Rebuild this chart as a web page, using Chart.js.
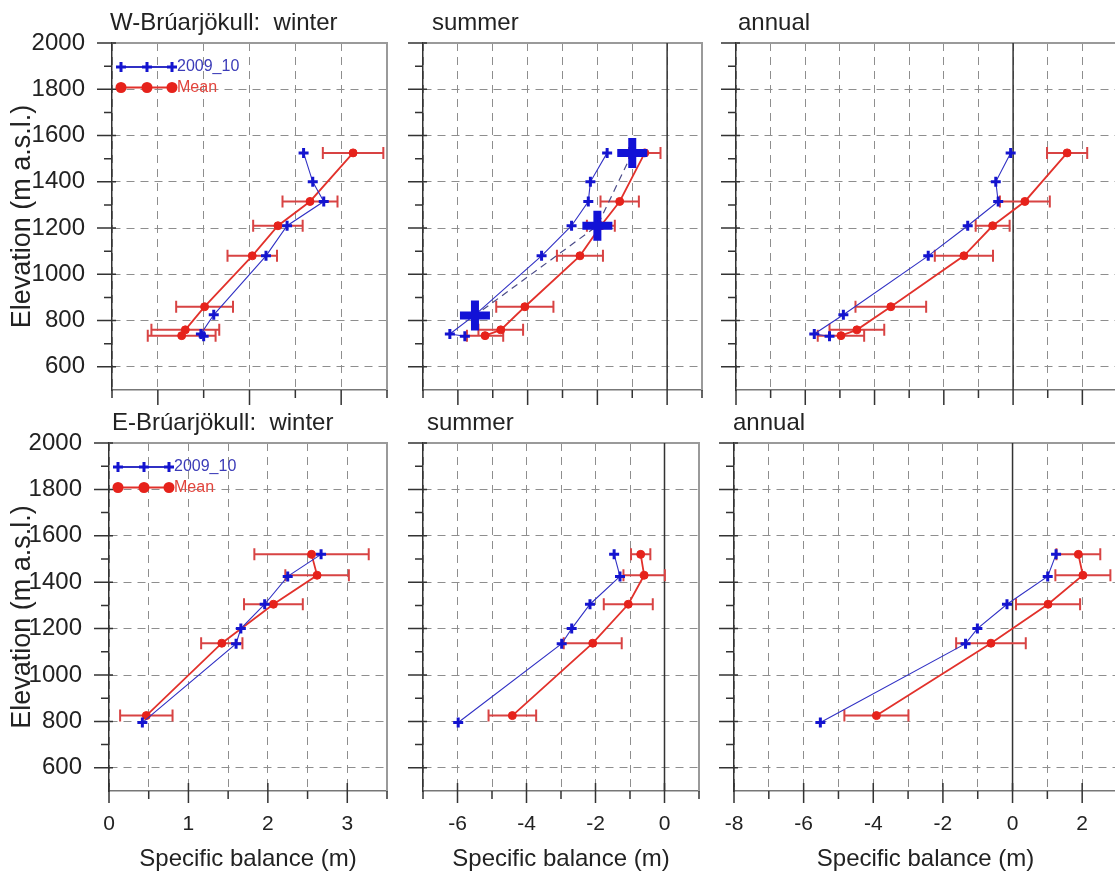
<!DOCTYPE html>
<html>
<head>
<meta charset="utf-8">
<script src="https://cdn.jsdelivr.net/npm/chart.js@4.4.1/dist/chart.umd.min.js"></script>
<style>
  html, body { margin: 0; padding: 0; background: #fff; overflow: hidden; }
  body { width: 1115px; height: 877px; position: relative; }
  canvas { position: absolute; }
</style>
</head>
<body>
<canvas id="wWinter" width="395" height="405" style="left:0;top:0"></canvas>
<canvas id="wSummer" width="318" height="405" style="left:392px;top:0"></canvas>
<canvas id="wAnnual" width="420" height="405" style="left:706px;top:0"></canvas>
<canvas id="eWinter" width="395" height="472" style="left:0;top:405px"></canvas>
<canvas id="eSummer" width="318" height="472" style="left:392px;top:405px"></canvas>
<canvas id="eAnnual" width="420" height="472" style="left:706px;top:405px"></canvas>
<script>
// ---- W-Brúarjökull ----
var wElev2009   = [1525, 1400, 1315, 1210, 1080, 825, 742, 732];
var wWinter2009 = [1.59, 1.69, 1.81, 1.41, 1.18, 0.61, 0.47, 0.50];
var wSummer2009 = [-1.72, -2.20, -2.26, -2.74, -3.60, -5.51, -6.23, -5.80];
var wAnnual2009 = [-0.07, -0.50, -0.43, -1.31, -2.45, -4.90, -5.74, -5.30];

var wElevMean   = [1525, 1315, 1210, 1080, 860, 760, 735];
var wWinterMean = [2.13, 1.66, 1.31, 1.03, 0.51, 0.30, 0.26];
var wWinterErr  = [0.33, 0.30, 0.27, 0.27, 0.31, 0.37, 0.37];
var wSummerMean = [-0.64, -1.36, -1.90, -2.50, -4.08, -4.77, -5.22];
var wSummerErr  = [0.45, 0.55, 0.40, 0.66, 0.82, 0.64, 0.52];
var wAnnualMean = [1.56, 0.34, -0.59, -1.42, -3.53, -4.51, -4.97];
var wAnnualErr  = [0.58, 0.72, 0.49, 0.84, 1.02, 0.79, 0.67];

var wStakeElev   = [1525, 1210, 822];
var wStakeSummer = [-1.0, -2.0, -5.51];

// ---- E-Brúarjökull ----
var eElev2009   = [1520, 1425, 1305, 1200, 1135, 795];
var eWinter2009 = [2.67, 2.25, 1.96, 1.66, 1.60, 0.42];
var eSummer2009 = [-1.46, -1.29, -2.16, -2.69, -2.98, -5.98];
var eAnnual2009 = [1.25, 1.01, -0.16, -1.01, -1.35, -5.52];

var eElevMean   = [1520, 1430, 1305, 1137, 825];
var eWinterMean = [2.55, 2.62, 2.07, 1.42, 0.47];
var eWinterErr  = [0.72, 0.40, 0.37, 0.26, 0.33];
var eSummerMean = [-0.69, -0.59, -1.05, -2.08, -4.41];
var eSummerErr  = [0.28, 0.60, 0.71, 0.84, 0.69];
var eAnnualMean = [1.89, 2.02, 1.02, -0.62, -3.91];
var eAnnualErr  = [0.63, 0.79, 0.92, 1.00, 0.92];

// ---- axes ----
var yTicks         = [600, 800, 1000, 1200, 1400, 1600, 1800, 2000];
var winterTopTicks = [-0.5, 0, 0.5, 1, 1.5, 2, 2.5];
var winterBotTicks = [0, 0.5, 1, 1.5, 2, 2.5, 3, 3.5];
var summerTicks    = [-7, -6, -5, -4, -3, -2, -1, 0, 1];
var annualTicks    = [-8, -7, -6, -5, -4, -3, -2, -1, 0, 1, 2, 3];

Chart.defaults.font.family = "'Liberation Sans', Arial, sans-serif";
Chart.defaults.color = '#222';

function pts(xs, ys, errs) {
  return xs.map(function (x, i) { return { x: x, y: ys[i], err: errs ? errs[i] : 0 }; });
}

var errorBars = {
  id: 'errorBars',
  beforeDatasetDraw: function (chart, args) {
    var ds = chart.data.datasets[args.index];
    if (!ds.errorBars) return;
    var xs = chart.scales.x, ys = chart.scales.y, ctx = chart.ctx;
    ctx.save();
    ctx.strokeStyle = '#d84343';
    ctx.lineWidth = 2;
    ds.data.forEach(function (p) {
      var y = ys.getPixelForValue(p.y);
      var x1 = xs.getPixelForValue(p.x - p.err), x2 = xs.getPixelForValue(p.x + p.err);
      ctx.beginPath();
      ctx.moveTo(x1, y); ctx.lineTo(x2, y);
      ctx.moveTo(x1, y - 6); ctx.lineTo(x1, y + 6);
      ctx.moveTo(x2, y - 6); ctx.lineTo(x2, y + 6);
      ctx.stroke();
    });
    ctx.restore();
  }
};

var frameTicks = {
  id: 'frameTicks',
  beforeDatasetsDraw: function (chart, args, opts) {
    var a = chart.chartArea, ctx = chart.ctx;
    ctx.save();
    ctx.strokeStyle = '#9a9a9a';
    ctx.lineWidth = 2;
    ctx.beginPath();
    ctx.moveTo(a.left, a.top); ctx.lineTo(a.right, a.top); ctx.lineTo(a.right, a.bottom);
    ctx.stroke();
    if (opts.zeroLine) {
      var x0 = chart.scales.x.getPixelForValue(0);
      ctx.strokeStyle = '#333';
      ctx.lineWidth = 1.5;
      ctx.beginPath(); ctx.moveTo(x0, a.top); ctx.lineTo(x0, a.bottom); ctx.stroke();
    }
    ctx.restore();
  },
  afterDraw: function (chart, args, opts) {
    var a = chart.chartArea, ctx = chart.ctx, xs = chart.scales.x, ys = chart.scales.y;
    ctx.save();
    ctx.strokeStyle = '#333';
    ctx.lineWidth = 1.5;
    ctx.beginPath();
    xs.ticks.forEach(function (t) {
      var px = xs.getPixelForValue(t.value);
      var major = Math.abs(t.value % opts.xMajor) < 1e-9;
      ctx.moveTo(px, a.bottom - (major ? opts.xIn : 0));
      ctx.lineTo(px, a.bottom + (major ? opts.xLong : 8));
    });
    for (var v = ys.min + 100; v <= ys.max; v += 100) {
      var py = ys.getPixelForValue(v);
      var maj = v % 200 === 0;
      ctx.moveTo(a.left + (maj ? 4 : 0), py);
      ctx.lineTo(a.left - (maj ? opts.yLong : 8), py);
    }
    ctx.stroke();
    ctx.restore();
  }
};

var panelTitle = {
  id: 'panelTitle',
  afterDraw: function (chart, args, opts) {
    var a = chart.chartArea, ctx = chart.ctx;
    ctx.save();
    ctx.font = "24px 'Liberation Sans', Arial, sans-serif";
    ctx.fillStyle = '#222';
    ctx.textBaseline = 'alphabetic';
    ctx.fillText(opts.text, a.left + opts.dx, a.top - 13);
    ctx.restore();
  }
};

var innerLegend = {
  id: 'innerLegend',
  afterDatasetsDraw: function (chart, args, opts) {
    if (!opts.show) return;
    var a = chart.chartArea, ctx = chart.ctx;
    var rows = chart.data.datasets.filter(function (d) { return d.inLegend; });
    ctx.save();
    ctx.font = "16px 'Liberation Sans', Arial, sans-serif";
    ctx.textBaseline = 'middle';
    rows.forEach(function (d, i) {
      var y = a.top + 24 + i * 20.5;
      ctx.strokeStyle = d.borderColor;
      ctx.lineWidth = 2;
      ctx.beginPath(); ctx.moveTo(a.left + 4, y); ctx.lineTo(a.left + 60, y); ctx.stroke();
      [9, 35, 60].forEach(function (dx) {
        var x = a.left + dx;
        if (d.pointStyle === 'cross') {
          ctx.strokeStyle = d.pointBorderColor;
          ctx.lineWidth = 3;
          ctx.beginPath();
          ctx.moveTo(x - 5, y); ctx.lineTo(x + 5, y);
          ctx.moveTo(x, y - 5); ctx.lineTo(x, y + 5);
          ctx.stroke();
        } else {
          ctx.fillStyle = d.pointBackgroundColor;
          ctx.beginPath(); ctx.arc(x, y, 5.5, 0, Math.PI * 2); ctx.fill();
        }
      });
      ctx.fillStyle = d.legendText;
      ctx.fillText(d.label, a.left + 65, y);
    });
    ctx.restore();
  }
};

function panel(id, cfg) {
  var datasets = [];
  if (cfg.stakes) {
    datasets.push({
      label: 'Stakes', data: cfg.stakes, showLine: true, order: 0,
      borderColor: '#4a4a88', borderWidth: 1.2, borderDash: [7, 5],
      pointStyle: 'cross', pointRadius: 15, pointBorderWidth: 8,
      pointBorderColor: '#1212d6', pointBackgroundColor: '#1212d6'
    });
  }
  datasets.push({
    label: '2009_10', data: cfg.blue, showLine: true, order: 1, inLegend: true, legendText: '#3b3bb8',
    borderColor: '#3030c4', borderWidth: 1.1,
    pointStyle: 'cross', pointRadius: 5, pointBorderWidth: 3,
    pointBorderColor: '#1414cf', pointBackgroundColor: '#1414cf'
  });
  datasets.push({
    label: 'Mean', data: cfg.red, showLine: true, order: 2, inLegend: true, legendText: '#e2443c',
    errorBars: true, borderColor: '#e2312b', borderWidth: 1.8,
    pointStyle: 'circle', pointRadius: 4, pointBorderWidth: 1,
    pointBorderColor: '#e6221b', pointBackgroundColor: '#e6221b'
  });

  new Chart(document.getElementById(id), {
    type: 'scatter',
    data: { datasets: datasets },
    plugins: [errorBars, frameTicks, panelTitle, innerLegend],
    options: {
      responsive: false,
      animation: false,
      events: [],
      layout: { autoPadding: false, padding: { top: cfg.padTop, right: cfg.padRight, left: 0, bottom: 0 } },
      plugins: {
        legend: { display: false },
        tooltip: { enabled: false },
        panelTitle: { text: cfg.title, dx: cfg.titleDx },
        innerLegend: { show: !!cfg.legend },
        frameTicks: {
          zeroLine: cfg.zeroLine, xMajor: cfg.xMajor,
          xLong: cfg.bottom ? 12 : 15, xIn: cfg.bottom ? 8 : 0, yLong: 15
        }
      },
      scales: {
        x: {
          type: 'linear', min: cfg.xTicks[0], max: cfg.xTicks[cfg.xTicks.length - 1],
          afterBuildTicks: function (s) { s.ticks = cfg.xTicks.map(function (v) { return { value: v }; }); },
          afterFit: function (s) { s.height = cfg.xHeight; },
          grid: { color: '#8e8e8e', lineWidth: 1, drawTicks: true, tickLength: 21, tickColor: 'transparent' },
          border: { color: '#777', width: 1.5, dash: [8, 6] },
          ticks: {
            display: !!cfg.bottom, autoSkip: false, maxRotation: 0, padding: 0,
            font: { size: 21 }, color: '#222',
            callback: function (v) { return Math.abs(v % cfg.xMajor) < 1e-9 ? String(v) : ''; }
          },
          title: {
            display: !!cfg.bottom, text: 'Specific balance (m)',
            font: { size: 24 }, color: '#222', padding: { top: 0, bottom: 3 }
          }
        },
        y: {
          type: 'linear', min: 500, max: 2000,
          afterBuildTicks: function (s) { s.ticks = yTicks.map(function (v) { return { value: v }; }); },
          afterFit: function (s) { s.width = cfg.yWidth; },
          grid: { color: '#8e8e8e', lineWidth: 1, drawTicks: true, tickLength: 27, tickColor: 'transparent' },
          border: { color: '#333', width: 1.5, dash: [8, 6] },
          ticks: {
            display: !!cfg.left, padding: 0, font: { size: 24 }, color: '#222',
            callback: function (v) { return String(v); }
          },
          title: {
            display: !!cfg.left, text: 'Elevation (m a.s.l.)',
            font: { size: 27 }, color: '#222', padding: { top: 6, bottom: 0 }
          }
        }
      }
    }
  });
}

var topRow = { padTop: 43, xHeight: 15 };
var botRow = { padTop: 38, xHeight: 86, bottom: true };

panel('wWinter', Object.assign({}, topRow, {
  title: 'W-Brúarjökull:  winter', titleDx: -2, left: true, legend: true,
  yWidth: 112, padRight: 8, xTicks: winterTopTicks, xMajor: 1,
  blue: pts(wWinter2009, wElev2009), red: pts(wWinterMean, wElevMean, wWinterErr)
}));
panel('wSummer', Object.assign({}, topRow, {
  title: 'summer', titleDx: 9, yWidth: 31, padRight: 8, xTicks: summerTicks, xMajor: 2, zeroLine: true,
  blue: pts(wSummer2009, wElev2009), red: pts(wSummerMean, wElevMean, wSummerErr),
  stakes: pts(wStakeSummer, wStakeElev)
}));
panel('wAnnual', Object.assign({}, topRow, {
  title: 'annual', titleDx: 2, yWidth: 30, padRight: 9, xTicks: annualTicks, xMajor: 2, zeroLine: true,
  blue: pts(wAnnual2009, wElev2009), red: pts(wAnnualMean, wElevMean, wAnnualErr)
}));
panel('eWinter', Object.assign({}, botRow, {
  title: 'E-Brúarjökull:  winter', titleDx: 3, left: true, legend: true,
  yWidth: 109, padRight: 8, xTicks: winterBotTicks, xMajor: 1,
  blue: pts(eWinter2009, eElev2009), red: pts(eWinterMean, eElevMean, eWinterErr)
}));
panel('eSummer', Object.assign({}, botRow, {
  title: 'summer', titleDx: 4, yWidth: 31, padRight: 11, xTicks: summerTicks, xMajor: 2, zeroLine: true,
  blue: pts(eSummer2009, eElev2009), red: pts(eSummerMean, eElevMean, eSummerErr)
}));
panel('eAnnual', Object.assign({}, botRow, {
  title: 'annual', titleDx: -1, yWidth: 28, padRight: 9, xTicks: annualTicks, xMajor: 2, zeroLine: true,
  blue: pts(eAnnual2009, eElev2009), red: pts(eAnnualMean, eElevMean, eAnnualErr)
}));
</script>
</body>
</html>
